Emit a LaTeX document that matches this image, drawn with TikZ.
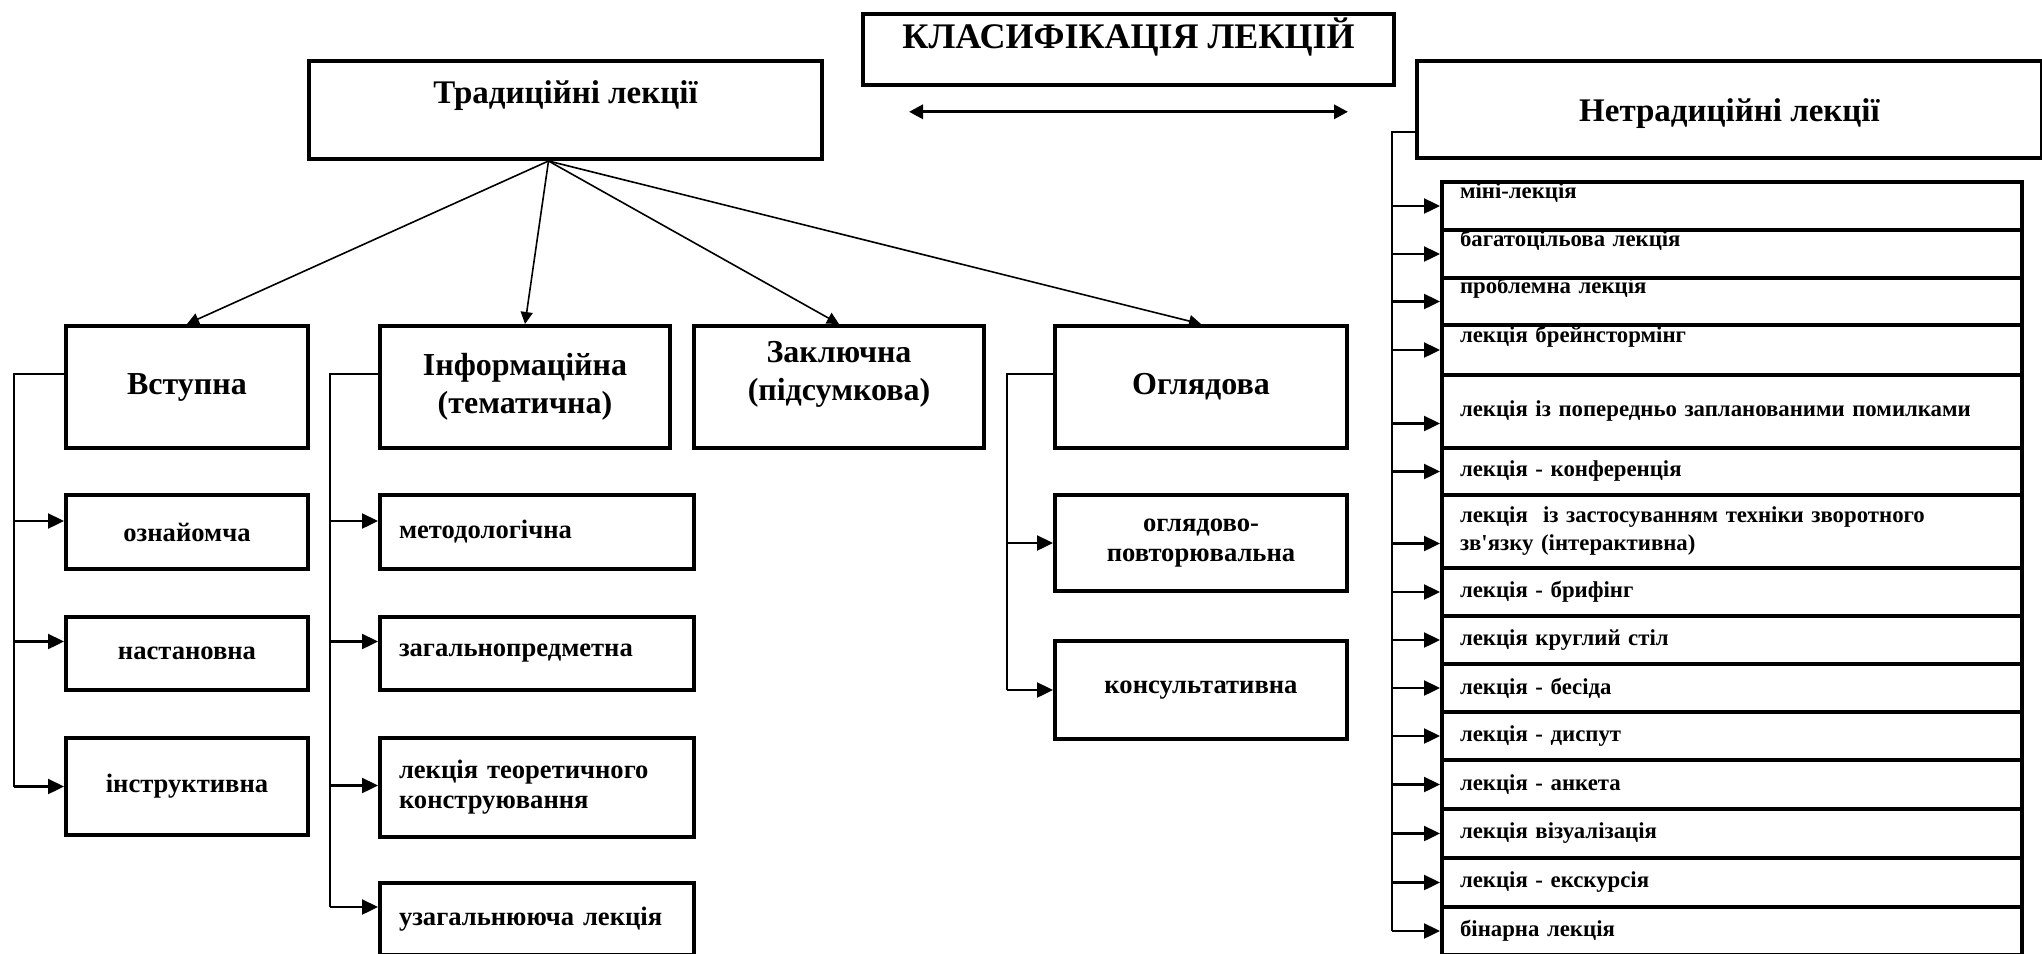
\documentclass[tikz,border=0pt]{standalone}
\usepackage{fontspec}
\setmainfont{Liberation Serif}
\usetikzlibrary{arrows.meta,positioning}

\begin{document}
\begin{tikzpicture}[x=1pt,y=1pt,
  box/.style={draw, line width=2pt, inner sep=0pt, anchor=north west, align=center},
  fs/.style 2 args={font=\bfseries\fontsize{#1}{#2}\selectfont},
  sbox/.style={box, fs={13.3}{15}, minimum width=121pt},
  ibox/.style={box, fs={13.3}{15}, align=left, inner xsep=9.5pt, text width=138pt},
  obox/.style={box, fs={13.3}{15}, minimum width=146pt},
  lbox/.style={box, fs={11.4}{14}, align=left, inner xsep=9pt, text width=272pt},
  toptxt/.style={text height=7.5pt, text depth=15.5pt},
  midtxt/.style={},
  link/.style={line width=1.2pt},
  arr/.style={link, -{Triangle[length=8pt,width=7.5pt]}},
  tarr/.style={line width=0.8pt, -{Triangle[length=6pt,width=6pt]}},
  darr/.style={line width=1.6pt, {Triangle[length=7pt,width=7pt]}-{Triangle[length=7pt,width=7pt]}}]
\useasboundingbox (0,0) rectangle (1021,-477);

% top row
\node[box, fs={18}{20}, minimum width=265.5pt, minimum height=35.6pt, text height=17.5pt, text depth=18pt] (title) at (430.5,-5.8) {КЛАСИФІКАЦІЯ ЛЕКЦІЙ};
\draw[darr] ([shift={(24pt,-12.5pt)}]title.south west) -- ([shift={(-24pt,-12.5pt)}]title.south east);
\node[box, fs={16.5}{20}, minimum width=256.5pt, minimum height=49pt, text height=21pt, text depth=28pt] (trad) at (153.5,-29.5) {Традиційні лекції};
\node[box, fs={16.5}{20}, minimum width=312.5pt, minimum height=48.5pt, text height=16pt, text depth=4pt] (netrad) at (707.5,-29.5) {Нетрадиційні лекції};

% traditional lectures
\node[box, fs={16}{19}, minimum width=121pt, minimum height=61pt] (vst) at (32,-162) {Вступна};
\node[box, fs={16}{19}, minimum width=145pt, minimum height=61pt] (inf) at (189,-162) {Інформаційна\\(тематична)};
\node[box, fs={16}{19}, minimum width=145pt, minimum height=61pt, text depth=16.5pt] (zak) at (346,-162) {Заключна\\(підсумкова)};
\node[box, fs={16}{19}, minimum width=146pt, minimum height=61pt] (ogl) at (526.5,-162) {Оглядова};
\foreach \n in {vst,inf,zak,ogl}
  \draw[tarr] ([xshift=-8.5pt]trad.south) -- (\n.north);

\node[sbox, minimum height=37pt] (v1) at (32,-246.5) {ознайомча};
\node[sbox, minimum height=36.5pt] (v2) at (32,-307.5) {настановна};
\node[sbox, minimum height=48.5pt] (v3) at (32,-368) {інструктивна};

\node[ibox, minimum height=37pt] (i1) at (189,-246.5) {методологічна};
\node[ibox, minimum height=36.5pt] (i2) at (189,-307.5) {загальнопредметна};
\node[ibox, minimum height=49.5pt] (i3) at (189,-368) {лекція теоретичного\\конструювання};
\node[ibox, minimum height=36pt] (i4) at (189,-440.5) {узагальнююча лекція};

\node[obox, minimum height=48pt] (o1) at (526.5,-246.5) {оглядово-\\повторювальна};
\node[obox, minimum height=49pt] (o2) at (526.5,-319.5) {консультативна};

\coordinate (vsp) at (7,-187);
\coordinate (isp) at (165,-187);
\coordinate (osp) at (503.5,-187);
\foreach \nm/\dy in {v1/5.5, v2/6, v3/0, i1/5.5, i2/6, i3/1, i4/6, o1/0, o2/0}
  \coordinate (a\nm) at ([yshift=\dy pt]\nm.west);
\foreach \nm in {v1,v2,v3} \draw[arr] (a\nm -| vsp) -- (a\nm);
\foreach \nm in {i1,i2,i3,i4} \draw[arr] (a\nm -| isp) -- (a\nm);
\foreach \nm in {o1,o2} \draw[arr] (a\nm -| osp) -- (a\nm);
\draw[link] (vsp -| vst.west) -- (vsp) -- (vsp |- av3);
\draw[link] (isp -| inf.west) -- (isp) -- (isp |- ai4);
\draw[link] (osp -| ogl.west) -- (osp) -- (osp |- ao2);

% non-traditional lectures
\coordinate (nsp) at (696,-66);
\foreach \nm/\ya/\yb/\dy/\st/\txt in {
  l1/90/114/0/toptxt/{міні-лекція},
  l2/114/138/0/toptxt/{багатоцільова лекція},
  l3/138/161.5/0/toptxt/{проблемна лекція},
  l4/161.5/186.5/0/toptxt/{лекція брейнстормінг},
  l5/186.5/223/-6/midtxt/{лекція із попередньо запланованими помилками},
  l6/223/246.5/0/midtxt/{лекція - конференція},
  l7/246.5/283/-6/midtxt/{лекція~ із застосуванням техніки зворотного\\зв\textquotesingle язку (інтерактивна)},
  l8/283/307/0/midtxt/{лекція - брифінг},
  l9/307/331/0/midtxt/{лекція круглий стіл},
  l10/331/355/0/midtxt/{лекція - бесіда},
  l11/355/379/0/midtxt/{лекція - диспут},
  l12/379/403.5/0/midtxt/{лекція - анкета},
  l13/403.5/428/0/midtxt/{лекція візуалізація},
  l14/428/452.5/0/midtxt/{лекція - екскурсія},
  l15/452.5/476.5/0/midtxt/{бінарна лекція}}
{
  \node[lbox, \st, minimum height={(\yb-\ya)*1pt}] (\nm) at (720,-\ya) {\txt};
  \coordinate (a\nm) at ([yshift=\dy pt]\nm.west);
  \draw[arr] (a\nm -| nsp) -- (a\nm);
}
\draw[link] (nsp -| netrad.west) -- (nsp) -- (nsp |- al15);
\end{tikzpicture}
\end{document}
